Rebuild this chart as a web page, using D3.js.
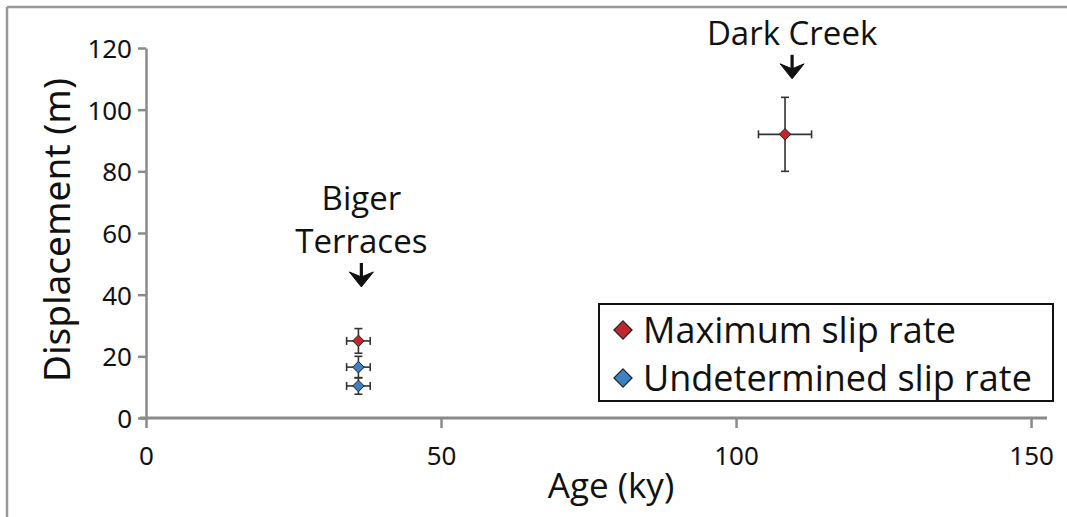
<!DOCTYPE html>
<html>
<head>
<meta charset="utf-8">
<script src="https://cdn.jsdelivr.net/npm/d3@7/dist/d3.min.js"></script>
<style>
  html, body { margin: 0; padding: 0; background: #fff; }
  svg { display: block; }
</style>
</head>
<body>
<svg id="chart" width="1067" height="517"></svg>
<script>
// ---- data ----
const seriesNames = ["Maximum slip rate", "Undetermined slip rate"];
const seriesColors = ["#c0272d", "#3d80c4"];
// Maximum slip rate points: age (ky), displacement (m), errors
const maxAge = [36, 108.3];
const maxDisp = [25, 92];
const maxAgeErr = [2, 4.5];
const maxDispErr = [4, 12];
// Undetermined slip rate points
const undAge = [36, 36];
const undDisp = [16.5, 10.4];
const undAgeErr = [2, 2];
const undDispErr = [3.5, 2.7];
// axis ticks
const xTicks = [0, 50, 100, 150];
const yTicks = [0, 20, 40, 60, 80, 100, 120];
// annotations: label lines and the point (age, displacement) the arrow tip points at
const annoLabels = [["Dark Creek"], ["Biger", "Terraces"]];
const annoAge = [109.5, 36.5];
const annoTip = [110, 42.5];

// ---- layout ----
const svg = d3.select("#chart");
const x = d3.scaleLinear().domain([0, 152.7]).range([146, 1047]);
const y = d3.scaleLinear().domain([0, 120]).range([418, 48]);
const axisColor = "#8a8a8a";
const tickFont = "'Noto Sans', 'Open Sans', sans-serif";
const textFont = "'Open Sans', 'Noto Sans', sans-serif";

// outer frame (top + left only)
svg.append("line").attr("x1", 7).attr("x2", 1067).attr("y1", 7).attr("y2", 7)
  .attr("stroke", "#999").attr("stroke-width", 2.5);
svg.append("line").attr("x1", 7).attr("x2", 7).attr("y1", 7).attr("y2", 517)
  .attr("stroke", "#999").attr("stroke-width", 2.5);

// y axis
const gy = svg.append("g").attr("transform", `translate(${x(0)},0)`)
  .call(d3.axisLeft(y).tickValues(yTicks).tickSize(8).tickSizeOuter(0).tickPadding(6));
gy.select(".domain").attr("stroke", axisColor).attr("stroke-width", 2.5);
gy.selectAll(".tick line").attr("stroke", axisColor).attr("stroke-width", 2.5);
gy.selectAll(".tick text").attr("font-family", tickFont).attr("font-size", 26)
  .attr("fill", "#111").attr("dy", "0.36em");

// x axis
const gx = svg.append("g").attr("transform", `translate(0,${y(0)})`)
  .call(d3.axisBottom(x).tickValues(xTicks).tickSize(10).tickSizeOuter(0).tickPadding(19));
gx.select(".domain").remove();
gx.append("line").attr("x1", x(0) - 6).attr("x2", x.range()[1])
  .attr("stroke", axisColor).attr("stroke-width", 3);
gx.selectAll(".tick line").attr("stroke", axisColor).attr("stroke-width", 2.5);
gx.selectAll(".tick text").attr("font-family", tickFont).attr("font-size", 26)
  .attr("fill", "#111");

// axis titles
svg.append("text").attr("transform", `translate(70,230) rotate(-90)`)
  .attr("text-anchor", "middle").attr("font-family", tickFont).attr("font-size", 37)
  .attr("fill", "#111").text("Displacement (m)");
svg.append("text").attr("x", 611).attr("y", 498).attr("text-anchor", "middle")
  .attr("font-family", textFont).attr("font-size", 35).attr("fill", "#111")
  .text("Age (ky)");

// points with error bars
const series = [
  {name: seriesNames[0], color: seriesColors[0], age: maxAge, disp: maxDisp, ex: maxAgeErr, ey: maxDispErr},
  {name: seriesNames[1], color: seriesColors[1], age: undAge, disp: undDisp, ex: undAgeErr, ey: undDispErr}
];
const diamond = d3.symbol().type(d3.symbolDiamond2).size(85);
const errColor = "#333";
const cap = 4;
// draw undetermined first, then maximum on top
[series[1], series[0]].forEach(s => {
  const pts = s.age.map((a, i) => ({a, d: s.disp[i], ex: s.ex[i], ey: s.ey[i]}));
  const g = svg.append("g");
  const eb = g.selectAll("g.eb").data(pts).join("g").attr("class", "eb")
    .attr("stroke", errColor).attr("stroke-width", 1.6);
  // horizontal
  eb.append("line").attr("x1", p => x(p.a - p.ex)).attr("x2", p => x(p.a + p.ex))
    .attr("y1", p => y(p.d)).attr("y2", p => y(p.d));
  eb.append("line").attr("x1", p => x(p.a - p.ex)).attr("x2", p => x(p.a - p.ex))
    .attr("y1", p => y(p.d) - cap).attr("y2", p => y(p.d) + cap);
  eb.append("line").attr("x1", p => x(p.a + p.ex)).attr("x2", p => x(p.a + p.ex))
    .attr("y1", p => y(p.d) - cap).attr("y2", p => y(p.d) + cap);
  // vertical
  eb.append("line").attr("x1", p => x(p.a)).attr("x2", p => x(p.a))
    .attr("y1", p => y(p.d - p.ey)).attr("y2", p => y(p.d + p.ey));
  eb.append("line").attr("x1", p => x(p.a) - cap).attr("x2", p => x(p.a) + cap)
    .attr("y1", p => y(p.d - p.ey)).attr("y2", p => y(p.d - p.ey));
  eb.append("line").attr("x1", p => x(p.a) - cap).attr("x2", p => x(p.a) + cap)
    .attr("y1", p => y(p.d + p.ey)).attr("y2", p => y(p.d + p.ey));
  g.selectAll("path.pt").data(pts).join("path").attr("class", "pt")
    .attr("d", diamond).attr("transform", p => `translate(${x(p.a)},${y(p.d)})`)
    .attr("fill", s.color).attr("stroke", "#222").attr("stroke-width", 1);
});

// annotations
annoLabels.forEach((lines, i) => {
  const ax = x(annoAge[i]);
  const tipY = y(annoTip[i]);
  const arrowTop = tipY - 24;
  const lineH = 43;
  const lastBase = arrowTop - 10;
  lines.forEach((t, j) => {
    svg.append("text").attr("x", ax).attr("y", lastBase - (lines.length - 1 - j) * lineH)
      .attr("text-anchor", "middle").attr("font-family", textFont).attr("font-size", 33)
      .attr("fill", "#111").text(t);
  });
  svg.append("line").attr("x1", ax).attr("x2", ax).attr("y1", arrowTop).attr("y2", tipY - 8)
    .attr("stroke", "#111").attr("stroke-width", 3.2);
  svg.append("path")
    .attr("d", `M${ax - 12},${tipY - 15} L${ax},${tipY} L${ax + 12},${tipY - 15} L${ax},${tipY - 10} Z`)
    .attr("fill", "#111").attr("stroke", "#111").attr("stroke-width", 1).attr("stroke-linejoin", "round");
});

// legend
const lg = svg.append("g");
lg.append("rect").attr("x", 599).attr("y", 304).attr("width", 454).attr("height", 97)
  .attr("fill", "#fff").attr("stroke", "#111").attr("stroke-width", 2);
const legDiamond = d3.symbol().type(d3.symbolDiamond2).size(210);
const rows = lg.selectAll("g.row").data(series).join("g").attr("class", "row")
  .attr("transform", (d, i) => `translate(0,${330 + i * 48})`);
rows.append("path").attr("d", legDiamond).attr("transform", "translate(623,0)")
  .attr("fill", d => d.color).attr("stroke", "#222").attr("stroke-width", 1.2);
rows.append("text").attr("x", 643).attr("y", 13).attr("font-family", textFont)
  .attr("font-size", 36).attr("fill", "#111").text(d => d.name);
</script>
</body>
</html>
